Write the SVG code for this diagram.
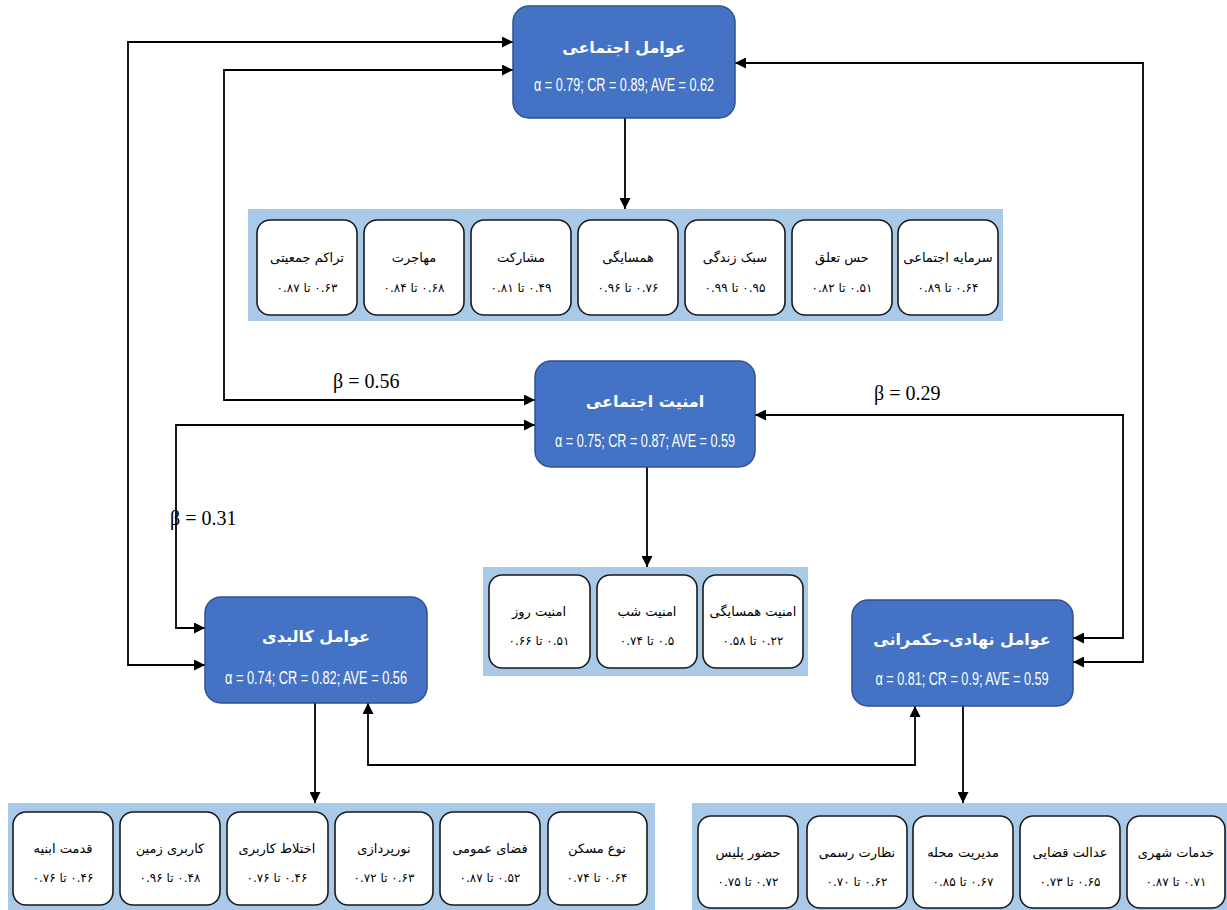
<svg xmlns="http://www.w3.org/2000/svg" width="1227" height="910" viewBox="0 0 1227 910">
<defs>
<marker id="ah" viewBox="0 0 10 10" refX="10" refY="5" markerWidth="11" markerHeight="11" markerUnits="userSpaceOnUse" orient="auto-start-reverse">
<path d="M0,0 L10,5 L0,10 z" fill="#000"/>
</marker>
<style>
.main{fill:#4472c4;stroke:#2f528f;stroke-width:1.5}
.panel{fill:#a9c9e8}
.sb{fill:#fff;stroke:#1a1a1a;stroke-width:1.6}
.tt{font-family:"DejaVu Sans",sans-serif;font-weight:bold;font-size:16px;fill:#fff;text-anchor:middle}
.st{font-family:"Liberation Sans Narrow","Liberation Sans",sans-serif;font-size:18px;fill:#fff;text-anchor:middle}
.sl{font-family:"DejaVu Sans",sans-serif;font-size:13px;fill:#000;text-anchor:middle}
.sn{font-family:"DejaVu Sans",sans-serif;font-size:12px;fill:#000;text-anchor:middle}
.beta{font-family:"Liberation Serif",serif;font-size:20px;fill:#000}
.c{fill:none;stroke:#000;stroke-width:1.8}
</style>
</defs>
<rect width="1227" height="910" fill="#fff"/>

<g id="connectors">
<path class="c" d="M513,42 H128 V665 H205" marker-start="url(#ah)" marker-end="url(#ah)"/>
<path class="c" d="M513,70 H224 V400 H535" marker-start="url(#ah)" marker-end="url(#ah)"/>
<path class="c" d="M535,425 H176 V628 H205" marker-start="url(#ah)" marker-end="url(#ah)"/>
<path class="c" d="M735,63 H1143 V662 H1073" marker-start="url(#ah)" marker-end="url(#ah)"/>
<path class="c" d="M755,415 H1123 V638 H1073" marker-start="url(#ah)" marker-end="url(#ah)"/>
<path class="c" d="M368,703 V765 H915 V706" marker-start="url(#ah)" marker-end="url(#ah)"/>
<path class="c" d="M625,118 V209" marker-end="url(#ah)"/>
<path class="c" d="M647,467 V567" marker-end="url(#ah)"/>
<path class="c" d="M315,703 V803" marker-end="url(#ah)"/>
<path class="c" d="M963,706 V803" marker-end="url(#ah)"/>
<text class="beta" x="333" y="388">β = 0.56</text>
<text class="beta" x="874" y="400">β = 0.29</text>
<text class="beta" x="170" y="525">β = 0.31</text>
</g>

<g id="social-factors">
<rect class="main" x="513" y="6" width="222" height="112" rx="16"/>
<text class="tt" x="624" y="53" direction="rtl">عوامل اجتماعی</text>
<text class="st" x="624" y="91" textLength="180" lengthAdjust="spacingAndGlyphs">α = 0.79; CR = 0.89; AVE = 0.62</text>
</g>

<g id="social-indicators">
<rect class="panel" x="248" y="209" width="755" height="112"/>
<rect class="sb" x="257" y="220" width="100" height="95" rx="13"/>
<text class="sl" x="307" y="262" direction="rtl">تراکم جمعیتی</text>
<text class="sn" x="307" y="292" direction="rtl">۰.۶۳ تا ۰.۸۷</text>
<rect class="sb" x="364" y="220" width="100" height="95" rx="13"/>
<text class="sl" x="414" y="262" direction="rtl">مهاجرت</text>
<text class="sn" x="414" y="292" direction="rtl">۰.۶۸ تا ۰.۸۴</text>
<rect class="sb" x="471" y="220" width="100" height="95" rx="13"/>
<text class="sl" x="521" y="262" direction="rtl">مشارکت</text>
<text class="sn" x="521" y="292" direction="rtl">۰.۴۹ تا ۰.۸۱</text>
<rect class="sb" x="578" y="220" width="100" height="95" rx="13"/>
<text class="sl" x="628" y="262" direction="rtl">همسایگی</text>
<text class="sn" x="628" y="292" direction="rtl">۰.۷۶ تا ۰.۹۶</text>
<rect class="sb" x="685" y="220" width="100" height="95" rx="13"/>
<text class="sl" x="735" y="262" direction="rtl">سبک زندگی</text>
<text class="sn" x="735" y="292" direction="rtl">۰.۹۵ تا ۰.۹۹</text>
<rect class="sb" x="792" y="220" width="100" height="95" rx="13"/>
<text class="sl" x="842" y="262" direction="rtl">حس تعلق</text>
<text class="sn" x="842" y="292" direction="rtl">۰.۵۱ تا ۰.۸۲</text>
<rect class="sb" x="898" y="220" width="100" height="95" rx="13"/>
<text class="sl" x="948" y="262" direction="rtl">سرمایه اجتماعی</text>
<text class="sn" x="948" y="292" direction="rtl">۰.۶۴ تا ۰.۸۹</text>
</g>

<g id="social-security">
<rect class="main" x="535" y="361" width="220" height="106" rx="16"/>
<text class="tt" x="645" y="407" direction="rtl">امنیت اجتماعی</text>
<text class="st" x="645" y="447" textLength="180" lengthAdjust="spacingAndGlyphs">α = 0.75; CR = 0.87; AVE = 0.59</text>
</g>

<g id="security-indicators">
<rect class="panel" x="483" y="567" width="325" height="109"/>
<rect class="sb" x="489" y="575" width="101" height="93" rx="13"/>
<text class="sl" x="539" y="616" direction="rtl">امنیت روز</text>
<text class="sn" x="539" y="645" direction="rtl">۰.۵۱ تا ۰.۶۶</text>
<rect class="sb" x="597" y="575" width="100" height="93" rx="13"/>
<text class="sl" x="647" y="616" direction="rtl">امنیت شب</text>
<text class="sn" x="647" y="645" direction="rtl">۰.۵ تا ۰.۷۴</text>
<rect class="sb" x="703" y="575" width="100" height="93" rx="13"/>
<text class="sl" x="753" y="616" direction="rtl">امنیت همسایگی</text>
<text class="sn" x="753" y="645" direction="rtl">۰.۲۲ تا ۰.۵۸</text>
</g>

<g id="physical-factors">
<rect class="main" x="205" y="597" width="222" height="106" rx="16"/>
<text class="tt" x="316" y="642" direction="rtl">عوامل کالبدی</text>
<text class="st" x="316" y="684" textLength="182" lengthAdjust="spacingAndGlyphs">α = 0.74; CR = 0.82; AVE = 0.56</text>
</g>

<g id="institutional-factors">
<rect class="main" x="852" y="600" width="221" height="106" rx="16"/>
<text class="tt" x="962" y="645" direction="rtl">عوامل نهادی-حکمرانی</text>
<text class="st" x="962" y="685" textLength="173" lengthAdjust="spacingAndGlyphs">α = 0.81; CR = 0.9; AVE = 0.59</text>
</g>

<g id="physical-indicators">
<rect class="panel" x="8" y="803" width="647" height="107"/>
<rect class="sb" x="13" y="812" width="100" height="93" rx="13"/>
<text class="sl" x="63" y="853" direction="rtl">قدمت ابنیه</text>
<text class="sn" x="63" y="882" direction="rtl">۰.۴۶ تا ۰.۷۶</text>
<rect class="sb" x="120" y="812" width="100" height="93" rx="13"/>
<text class="sl" x="170" y="853" direction="rtl">کاربری زمین</text>
<text class="sn" x="170" y="882" direction="rtl">۰.۴۸ تا ۰.۹۶</text>
<rect class="sb" x="227" y="812" width="101" height="93" rx="13"/>
<text class="sl" x="277" y="853" direction="rtl">اختلاط کاربری</text>
<text class="sn" x="277" y="882" direction="rtl">۰.۴۶ تا ۰.۷۶</text>
<rect class="sb" x="335" y="812" width="98" height="93" rx="13"/>
<text class="sl" x="384" y="853" direction="rtl">نورپردازی</text>
<text class="sn" x="384" y="882" direction="rtl">۰.۶۳ تا ۰.۷۲</text>
<rect class="sb" x="440" y="812" width="100" height="93" rx="13"/>
<text class="sl" x="490" y="853" direction="rtl">فضای عمومی</text>
<text class="sn" x="490" y="882" direction="rtl">۰.۵۲ تا ۰.۸۷</text>
<rect class="sb" x="548" y="812" width="99" height="93" rx="13"/>
<text class="sl" x="597" y="853" direction="rtl">نوع مسکن</text>
<text class="sn" x="597" y="882" direction="rtl">۰.۶۴ تا ۰.۷۴</text>
</g>

<g id="institutional-indicators">
<rect class="panel" x="692" y="803" width="535" height="107"/>
<rect class="sb" x="698" y="816" width="100" height="92" rx="13"/>
<text class="sl" x="748" y="857" direction="rtl">حضور پلیس</text>
<text class="sn" x="748" y="886" direction="rtl">۰.۷۲ تا ۰.۷۵</text>
<rect class="sb" x="807" y="816" width="100" height="92" rx="13"/>
<text class="sl" x="857" y="857" direction="rtl">نظارت رسمی</text>
<text class="sn" x="857" y="886" direction="rtl">۰.۶۲ تا ۰.۷۰</text>
<rect class="sb" x="913" y="816" width="100" height="92" rx="13"/>
<text class="sl" x="963" y="857" direction="rtl">مدیریت محله</text>
<text class="sn" x="963" y="886" direction="rtl">۰.۶۷ تا ۰.۸۵</text>
<rect class="sb" x="1020" y="816" width="100" height="92" rx="13"/>
<text class="sl" x="1070" y="857" direction="rtl">عدالت قضایی</text>
<text class="sn" x="1070" y="886" direction="rtl">۰.۶۵ تا ۰.۷۳</text>
<rect class="sb" x="1127" y="816" width="98" height="92" rx="13"/>
<text class="sl" x="1176" y="857" direction="rtl">خدمات شهری</text>
<text class="sn" x="1176" y="886" direction="rtl">۰.۷۱ تا ۰.۸۷</text>
</g>
</svg>
